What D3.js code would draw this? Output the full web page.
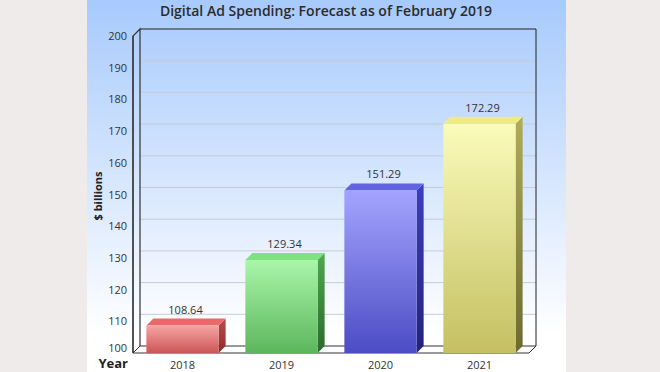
<!DOCTYPE html>
<html><head><meta charset="utf-8">
<script src="https://cdn.jsdelivr.net/npm/d3@7"></script>
<style>body{margin:0;background:#efebeb;}svg{display:block;}</style>
</head><body>
<svg id="c" width="660" height="372"></svg>
<script>
const categories = ["2018","2019","2020","2021"];
const values = [108.64, 129.34, 151.29, 172.29];
const yTicks = [100,110,120,130,140,150,160,170,180,190,200];
const palette = [
  {top:"#e86a6a", f1:"#f6a4a4", f2:"#cc5656", s1:"#c04848", s2:"#8c2c2c"},
  {top:"#7fe27f", f1:"#aaf6aa", f2:"#5cb65c", s1:"#4ea84e", s2:"#2c6a2c"},
  {top:"#6262e2", f1:"#a4a4ff", f2:"#4c4cc4", s1:"#3e3ec0", s2:"#22227a"},
  {top:"#eeec80", f1:"#fbfbba", f2:"#c4c062", s1:"#b0ac58", s2:"#6c6a30"}
];
const title = "Digital Ad Spending: Forecast as of February 2019";

const svg = d3.select("#c");
const W=660,H=372;
const defs = svg.append("defs");
const bg = defs.append("linearGradient").attr("id","bg").attr("x1",0).attr("y1",0).attr("x2",0).attr("y2",1);
bg.append("stop").attr("offset","0%").attr("stop-color","#a7cafc");
bg.append("stop").attr("offset","90%").attr("stop-color","#ffffff");
bg.append("stop").attr("offset","100%").attr("stop-color","#ffffff");
svg.append("rect").attr("x",0).attr("y",0).attr("width",W).attr("height",H).attr("fill","#efebeb");
svg.append("rect").attr("x",87).attr("y",0).attr("width",479).attr("height",H).attr("fill","url(#bg)");

palette.forEach((p,i)=>{
  const g=defs.append("linearGradient").attr("id","f"+i).attr("x1",0).attr("y1",0).attr("x2",0).attr("y2",1);
  g.append("stop").attr("offset","0%").attr("stop-color",p.f1);
  g.append("stop").attr("offset","100%").attr("stop-color",p.f2);
  const s=defs.append("linearGradient").attr("id","s"+i).attr("x1",0).attr("y1",0).attr("x2",0).attr("y2",1);
  s.append("stop").attr("offset","0%").attr("stop-color",p.s1);
  s.append("stop").attr("offset","100%").attr("stop-color",p.s2);
});

const x0=133, x1=529, dx=7, dy=7;
const y = d3.scaleLinear().domain([100,200]).range([353,36]);
const x = d3.scaleBand().domain(categories).range([x0,x1]).paddingInner(0.27).paddingOuter(0.135);

// Title
svg.append("text").attr("x",326).attr("y",16).attr("text-anchor","middle")
  .attr("font-family","Open Sans").attr("font-weight",600).attr("font-size",14).attr("fill","#2b2b2b").text(title);

// back wall gridlines
const grid = svg.append("g");
yTicks.forEach(t=>{
  if(t===100||t===200) return;
  grid.append("line").attr("x1",x0+dx).attr("x2",x1+dx).attr("y1",y(t)-dy).attr("y2",y(t)-dy)
    .attr("stroke","#c4ccd6").attr("stroke-width",1);
});

// floor
svg.append("path").attr("d",`M${x0},${y(100)}L${x0+dx},${y(100)-dy}L${x1+dx},${y(100)-dy}L${x1},${y(100)}Z`)
  .attr("fill","#ffffff").attr("stroke","#333").attr("stroke-width",1);
// walls outline
svg.append("path").attr("d",`M${x0},${y(100)}L${x0},${y(200)}L${x0+dx},${y(200)-dy}L${x0+dx},${y(100)-dy}`)
  .attr("fill","none").attr("stroke","#333").attr("stroke-width",1.2);
svg.append("path").attr("d",`M${x0+dx},${y(200)-dy}L${x1+dx},${y(200)-dy}L${x1+dx},${y(100)-dy}`)
  .attr("fill","none").attr("stroke","#222").attr("stroke-width",1);

// y tick labels
svg.append("g").selectAll("text").data(yTicks).join("text")
  .attr("x",127).attr("y",d=>y(d)+(d===100?-1.5:4)).attr("text-anchor","end")
  .attr("font-family","Open Sans").attr("font-size",11).attr("fill","#333").text(d=>d);

// axis titles
svg.append("text").attr("transform","translate(102,196) rotate(-90)").attr("text-anchor","middle")
  .attr("font-family","Open Sans").attr("font-weight",700).attr("font-size",11).attr("fill","#222").text("$ billions");
svg.append("text").attr("x",128).attr("y",368).attr("text-anchor","end")
  .attr("font-family","Open Sans").attr("font-weight",700).attr("font-size",13).attr("fill","#222").text("Year");

// bars
const bars = svg.append("g").selectAll("g").data(categories).join("g");
bars.each(function(c,i){
  const g=d3.select(this);
  const bx=x(c), bw=x.bandwidth(), by=y(values[i]), b0=y(100);
  g.append("path").attr("d",`M${bx+bw},${by}L${bx+bw+dx},${by-dy}L${bx+bw+dx},${b0-dy}L${bx+bw},${b0}Z`).attr("fill",`url(#s${i})`);
  g.append("path").attr("d",`M${bx},${by}L${bx+dx},${by-dy}L${bx+bw+dx},${by-dy}L${bx+bw},${by}Z`).attr("fill",palette[i].top);
  g.append("rect").attr("x",bx).attr("y",by).attr("width",bw).attr("height",b0-by).attr("fill",`url(#f${i})`);
  g.append("text").attr("x",bx+bw/2+3).attr("y",by-dy-5).attr("text-anchor","middle")
    .attr("font-family","Open Sans").attr("font-size",11).attr("fill","#333").text(values[i].toFixed(2));
  g.append("text").attr("x",bx+bw/2).attr("y",369).attr("text-anchor","middle")
    .attr("font-family","Open Sans").attr("font-size",11).attr("fill","#333").text(c);
});
// front axis line on top
svg.append("line").attr("x1",x0).attr("x2",x0).attr("y1",y(200)).attr("y2",y(100)).attr("stroke","#333").attr("stroke-width",1.2);
</script>
</body></html>
